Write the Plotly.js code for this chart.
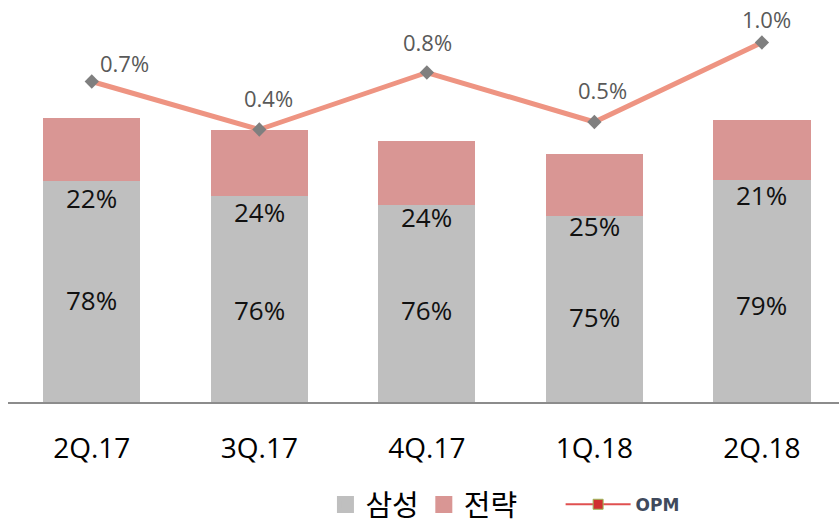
<!DOCTYPE html>
<html>
<head>
<meta charset="utf-8">
<script src="https://cdn.plot.ly/plotly-3.0.1.min.js"></script>
<style>html,body{margin:0;padding:0;background:#fff;}#chart{width:839px;height:524px;}</style>
</head>
<body>
<div id="chart"></div>
<script>
// ---- data ----
const categories = ['2Q.17', '3Q.17', '4Q.17', '1Q.18', '2Q.18'];
const samsung = [221, 206, 197, 186, 222];      // 삼성 (bar height, relative units)
const strategy = [63, 66, 64, 62, 60];          // 전략
const samsungLabels = ['78%', '76%', '76%', '75%', '79%'];
const strategyLabels = ['22%', '24%', '24%', '25%', '21%'];
const opm = [0.73, 0.41, 0.79, 0.46, 0.99];     // OPM (%)
const opmLabels = ['0.7%', '0.4%', '0.8%', '0.5%', '1.0%'];

const FONT = 'Open Sans, Noto Sans CJK KR, sans-serif';
const KFONT = 'Noto Sans CJK KR, Open Sans, sans-serif';
const GRAY = '#BFBFBF', RED = '#D99694';

const traces = [
  {
    type: 'bar', name: '삼성', x: categories, y: samsung,
    marker: {color: GRAY}, width: 0.58, hoverinfo: 'none', showlegend: false
  },
  {
    type: 'bar', name: '전략', x: categories, y: strategy,
    marker: {color: RED}, width: 0.58, hoverinfo: 'none', showlegend: false
  },
  {
    type: 'scatter', mode: 'lines+markers', x: categories, y: opm, yaxis: 'y2',
    line: {color: '#EE9482', width: 5},
    marker: {symbol: 'diamond', size: 11, color: '#7F7F7F'},
    showlegend: false, hoverinfo: 'none', cliponaxis: false
  },
  // legend entries
  {
    type: 'bar', name: '삼성', x: [null], y: [null],
    marker: {color: GRAY, line: {color: GRAY, width: 5}}, hoverinfo: 'none'
  },
  {
    type: 'bar', name: '전략', x: [null], y: [null],
    marker: {color: RED, line: {color: RED, width: 5}}, hoverinfo: 'none'
  },
  {
    type: 'scatter', mode: 'lines+markers', x: [null], y: [null], yaxis: 'y2',
    legend: 'legend2',
    name: 'OPM',
    line: {color: '#E05050', width: 2},
    marker: {symbol: 'square', size: 10, color: '#D03030', line: {color: '#9BBB59', width: 1}},
    hoverinfo: 'none'
  }
];

// label offsets (pixels) — styling only
const grayShift = [-8.5, -11, -6, -7.5, -13.5];
const redShift = [-17, -15.5, -12, -10, -15];
const opmShift = [[33, 19], [9, 32], [1, 31], [8, 32], [5, 24]];

const annotations = [];
categories.forEach((c, i) => {
  annotations.push({
    x: c, y: samsung[i] / 2, xref: 'x', yref: 'y', text: samsungLabels[i],
    showarrow: false, yanchor: 'middle', yshift: grayShift[i],
    font: {family: FONT, size: 26, color: '#111'}
  });
  annotations.push({
    x: c, y: samsung[i], xref: 'x', yref: 'y', text: strategyLabels[i],
    showarrow: false, yanchor: 'middle', yshift: redShift[i],
    font: {family: FONT, size: 26, color: '#111'}
  });
  annotations.push({
    x: c, y: opm[i], xref: 'x', yref: 'y2', text: opmLabels[i],
    showarrow: false, yanchor: 'middle', xanchor: 'center',
    xshift: opmShift[i][0], yshift: opmShift[i][1],
    font: {family: FONT, size: 22, color: '#595959'}
  });
});

const layout = {
  width: 839, height: 524,
  margin: {l: 8, r: 0, t: 10, b: 122, autoexpand: false},
  paper_bgcolor: '#fff', plot_bgcolor: '#fff',
  barmode: 'stack',
  font: {family: FONT, color: '#000'},
  xaxis: {
    type: 'category', range: [-0.5, 4.46],
    showline: true, linecolor: '#8C8C8C', linewidth: 2,
    ticks: '', showgrid: false, zeroline: false,
    tickfont: {family: FONT, size: 28, color: '#000'},
    ticklabelstandoff: 20, fixedrange: true, automargin: false
  },
  yaxis: {
    range: [0, 392], visible: false, showgrid: false, zeroline: false, fixedrange: true
  },
  yaxis2: {
    overlaying: 'y', side: 'right', range: [-1.4067, 1.2067],
    visible: false, showgrid: false, zeroline: false, fixedrange: true
  },
  annotations: annotations,
  showlegend: true,
  legend: {
    orientation: 'h', x: 0.382, xanchor: 'left', y: -0.262, yanchor: 'middle',
    font: {family: KFONT, size: 29, color: '#000'},
    itemwidth: 30, traceorder: 'normal', bgcolor: 'rgba(0,0,0,0)'
  },
  legend2: {
    orientation: 'h', x: 0.665, xanchor: 'left', y: -0.262, yanchor: 'middle',
    font: {family: 'DejaVu Sans, sans-serif', size: 17, color: '#404a5c', weight: 'bold'},
    itemwidth: 65, bgcolor: 'rgba(0,0,0,0)'
  }
};

Plotly.newPlot('chart', traces, layout, {displayModeBar: false, staticPlot: true});
</script>
</body>
</html>
